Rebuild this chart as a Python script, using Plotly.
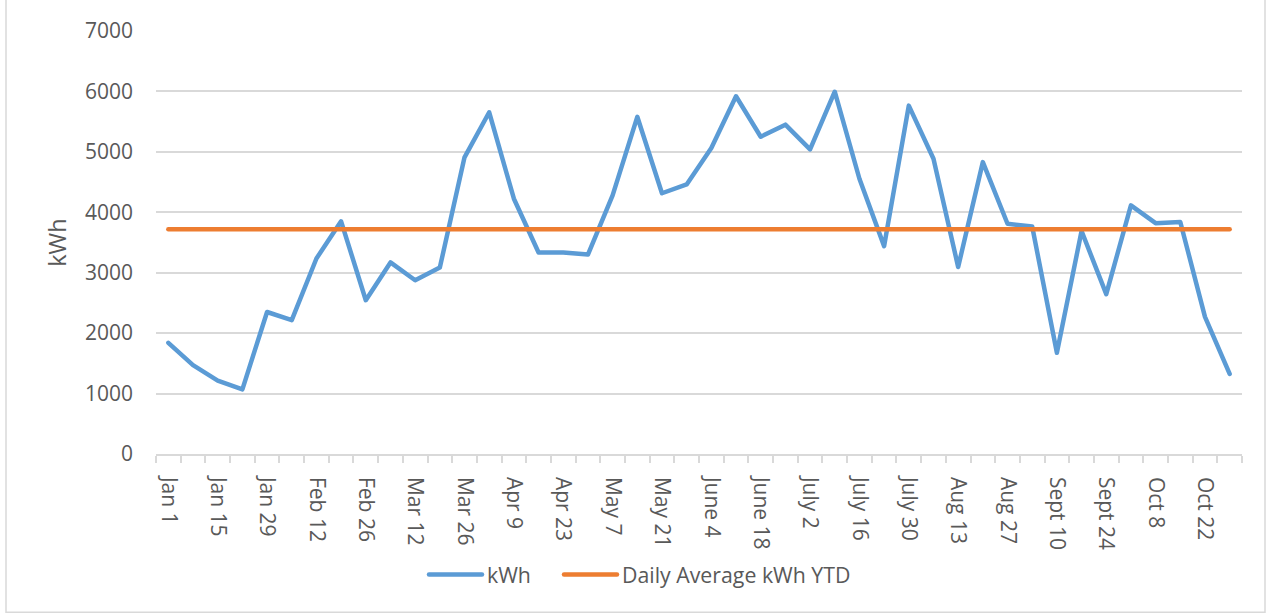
import plotly.graph_objects as go

weeks = ["Jan 1", "Jan 8", "Jan 15", "Jan 22", "Jan 29", "Feb 5", "Feb 12", "Feb 19",
         "Feb 26", "Mar 5", "Mar 12", "Mar 19", "Mar 26", "Apr 2", "Apr 9", "Apr 16",
         "Apr 23", "Apr 30", "May 7", "May 14", "May 21", "May 28", "June 4", "June 11",
         "June 18", "June 25", "July 2", "July 9", "July 16", "July 23", "July 30", "Aug 6",
         "Aug 13", "Aug 20", "Aug 27", "Sept 3", "Sept 10", "Sept 17", "Sept 24", "Oct 1",
         "Oct 8", "Oct 15", "Oct 22", "Oct 29"]

kwh = [1840, 1470, 1215, 1070, 2350, 2215, 3235, 3850, 2545, 3170,
       2875, 3085, 4910, 5655, 4225, 3335, 3335, 3300, 4280, 5580,
       4315, 4460, 5065, 5920, 5250, 5450, 5040, 5995, 4555, 3440,
       5765, 4885, 3095, 4830, 3810, 3765, 1675, 3690, 2645, 4115,
       3820, 3840, 2270, 1325]

daily_avg_ytd = 3720
avg_line = [daily_avg_ytd] * len(weeks)

tick_labels = [w if i % 2 == 0 else "" for i, w in enumerate(weeks)]

FONT = "Open Sans"
TXT = "#595959"
GRID = "#d9d9d9"

fig = go.Figure()
fig.add_trace(go.Scatter(x=weeks, y=kwh, mode="lines", name="kWh", legendwidth=67,
                         line=dict(color="#5B9BD5", width=4.5)))
fig.add_trace(go.Scatter(x=weeks, y=avg_line, mode="lines", name="Daily Average kWh YTD",
                         line=dict(color="#ED7D31", width=4.5)))

fig.update_layout(
    width=1267, height=614,
    margin=dict(l=156, r=25, t=31, b=160),
    paper_bgcolor="white", plot_bgcolor="white",
    font=dict(family=FONT, color=TXT, size=21),
    showlegend=True,
    legend=dict(orientation="h", x=(424 - 156) / 1086, xanchor="left", y=-0.285, yanchor="middle",
                itemwidth=53, font=dict(size=21.3, color=TXT), bgcolor="rgba(0,0,0,0)"),
    xaxis=dict(type="category", tickmode="array", tickvals=weeks, ticktext=tick_labels,
               tickson="boundaries", ticks="outside", ticklen=7, tickwidth=1.5, tickcolor=GRID,
               showline=True, linecolor=GRID, linewidth=1.5, showgrid=False,
               tickangle=90, tickfont=dict(size=21, color=TXT), ticklabelstandoff=17,
               range=[-0.5, len(weeks) - 0.5]),
    yaxis=dict(range=[0, 7000], dtick=1000, tick0=0, showgrid=True, gridcolor=GRID, gridwidth=1.5,
               zeroline=False, showline=False, ticks="", tickfont=dict(size=21, color=TXT),
               ticklabelstandoff=22,
               title=dict(text="kWh", font=dict(size=23.5, color=TXT), standoff=11)),
)

fig.add_shape(type="rect", xref="paper", yref="paper",
              x0=(6 - 156) / 1086, x1=(1265 - 156) / 1086,
              y0=(454.3 - 612.7) / 423.6, y1=(454.3 + 5) / 423.6,
              line=dict(color=GRID, width=1.5), fillcolor="rgba(0,0,0,0)", layer="below")

post = ("document.body.style.margin='0';"
        "document.querySelectorAll('.scatterlayer path.js-line, .legendlines path')"
        ".forEach(function(p){p.style.strokeLinecap='round';p.style.strokeLinejoin='round';});")
fig.write_html("out.html", post_script=post, config={"displayModeBar": False})
